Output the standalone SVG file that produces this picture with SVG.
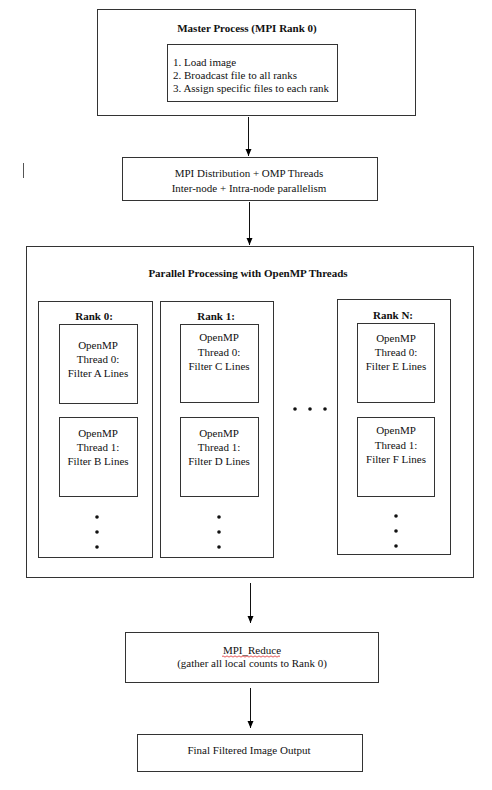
<svg xmlns="http://www.w3.org/2000/svg" width="492" height="790" viewBox="0 0 492 790" font-family="'Liberation Serif', 'Times New Roman', Times, serif">
<defs>
<marker id="ah" markerWidth="8" markerHeight="8" refX="7" refY="4" orient="auto" markerUnits="userSpaceOnUse">
<path d="M0,1 L7,4 L0,7 Z" fill="#000"/>
</marker>
<style>
rect{fill:#fff;stroke:#333;stroke-width:1}
text{font-family:'Liberation Serif','Times New Roman',Times,serif;font-size:11px;fill:#111}
.c{text-anchor:middle}
.b{font-weight:bold}
.dot{fill:#111}
.conn line{stroke:#111;stroke-width:1}
</style>
</defs>
<rect x="0" y="0" width="492" height="790" style="fill:#fff;stroke:none"/>

<g id="master">
<rect x="97.5" y="9.5" width="318" height="106"/>
<text class="c b" x="247" y="32">Master Process (MPI Rank 0)</text>
<rect x="167.5" y="44.5" width="170" height="57"/>
<text x="173" y="65.5">1. Load image</text>
<text x="173" y="79">2. Broadcast file to all ranks</text>
<text x="173" y="92">3. Assign specific files to each rank</text>
</g>

<g id="distribution">
<rect x="122.5" y="157.5" width="255" height="43"/>
<text class="c" x="249" y="177">MPI Distribution + OMP Threads</text>
<text class="c" x="249" y="192">Inter-node + Intra-node parallelism</text>
</g>

<line x1="23.5" y1="163" x2="23.5" y2="178" stroke="#555" stroke-width="1"/>

<g id="parallel">
<rect x="26.5" y="246.5" width="447" height="331"/>
<text class="c b" x="248" y="277">Parallel Processing with OpenMP Threads</text>
</g>

<g id="rank0">
<rect x="38.5" y="301.5" width="114" height="256"/>
<text class="c b" x="94" y="320">Rank 0:</text>
<rect x="59.5" y="324.5" width="78" height="79"/>
<text class="c" x="98" y="349">OpenMP</text>
<text class="c" x="98" y="363">Thread 0:</text>
<text class="c" x="98" y="377">Filter A Lines</text>
<rect x="59.5" y="417.5" width="78" height="79"/>
<text class="c" x="98" y="437">OpenMP</text>
<text class="c" x="98" y="451">Thread 1:</text>
<text class="c" x="98" y="465">Filter B Lines</text>
<circle class="dot" cx="97" cy="517" r="1.8"/>
<circle class="dot" cx="97" cy="532" r="1.8"/>
<circle class="dot" cx="97" cy="547" r="1.8"/>
</g>

<g id="rank1">
<rect x="160.5" y="301.5" width="113" height="256"/>
<text class="c b" x="216" y="320">Rank 1:</text>
<rect x="180.5" y="324.5" width="78" height="78"/>
<text class="c" x="219" y="341">OpenMP</text>
<text class="c" x="219" y="356">Thread 0:</text>
<text class="c" x="219" y="370">Filter C Lines</text>
<rect x="180.5" y="417.5" width="78" height="79"/>
<text class="c" x="219" y="437">OpenMP</text>
<text class="c" x="219" y="451">Thread 1:</text>
<text class="c" x="219" y="465">Filter D Lines</text>
<circle class="dot" cx="219" cy="517" r="1.8"/>
<circle class="dot" cx="219" cy="532" r="1.8"/>
<circle class="dot" cx="219" cy="547" r="1.8"/>
</g>

<g id="ellipsis">
<circle class="dot" cx="295" cy="409" r="1.8"/>
<circle class="dot" cx="310" cy="409" r="1.8"/>
<circle class="dot" cx="325" cy="409" r="1.8"/>
</g>

<g id="rankN">
<rect x="337.5" y="299.5" width="113" height="255"/>
<text class="c b" x="393" y="319">Rank N:</text>
<rect x="357.5" y="323.5" width="77" height="79"/>
<text class="c" x="396" y="342">OpenMP</text>
<text class="c" x="396" y="356">Thread 0:</text>
<text class="c" x="396" y="370">Filter E Lines</text>
<rect x="357.5" y="417.5" width="77" height="79"/>
<text class="c" x="396" y="434">OpenMP</text>
<text class="c" x="396" y="449">Thread 1:</text>
<text class="c" x="396" y="463">Filter F Lines</text>
<circle class="dot" cx="396" cy="516" r="1.8"/>
<circle class="dot" cx="396" cy="531" r="1.8"/>
<circle class="dot" cx="396" cy="546" r="1.8"/>
</g>

<g id="reduce">
<rect x="125.5" y="632.5" width="253" height="50"/>
<text class="c" x="252" y="654">MPI_Reduce</text>
<path d="M222,656.5 q1,-1.2 2,0 t2,0 t2,0 t2,0 t2,0 t2,0 t2,0 t2,0 t2,0 t2,0 t2,0 t2,0 t2,0 t2,0 t2,0 t2,0 t2,0 t2,0 t2,0 t2,0 t2,0 t2,0 t2,0 t2,0 t2,0 t2,0 t2,0 t2,0 t2,0" fill="none" stroke="#e03030" stroke-width="0.8"/>
<text class="c" x="252" y="667">(gather all local counts to Rank 0)</text>
</g>

<g id="output">
<rect x="137.5" y="734.5" width="225" height="37"/>
<text class="c" x="249" y="754">Final Filtered Image Output</text>
</g>

<g id="connectors" class="conn">
<line x1="248.5" y1="117" x2="248.5" y2="156" marker-end="url(#ah)"/>
<line x1="249.5" y1="202" x2="249.5" y2="245" marker-end="url(#ah)"/>
<line x1="250.5" y1="583" x2="250.5" y2="623" marker-end="url(#ah)"/>
<line x1="250.5" y1="688" x2="250.5" y2="728" marker-end="url(#ah)"/>
</g>
</svg>
